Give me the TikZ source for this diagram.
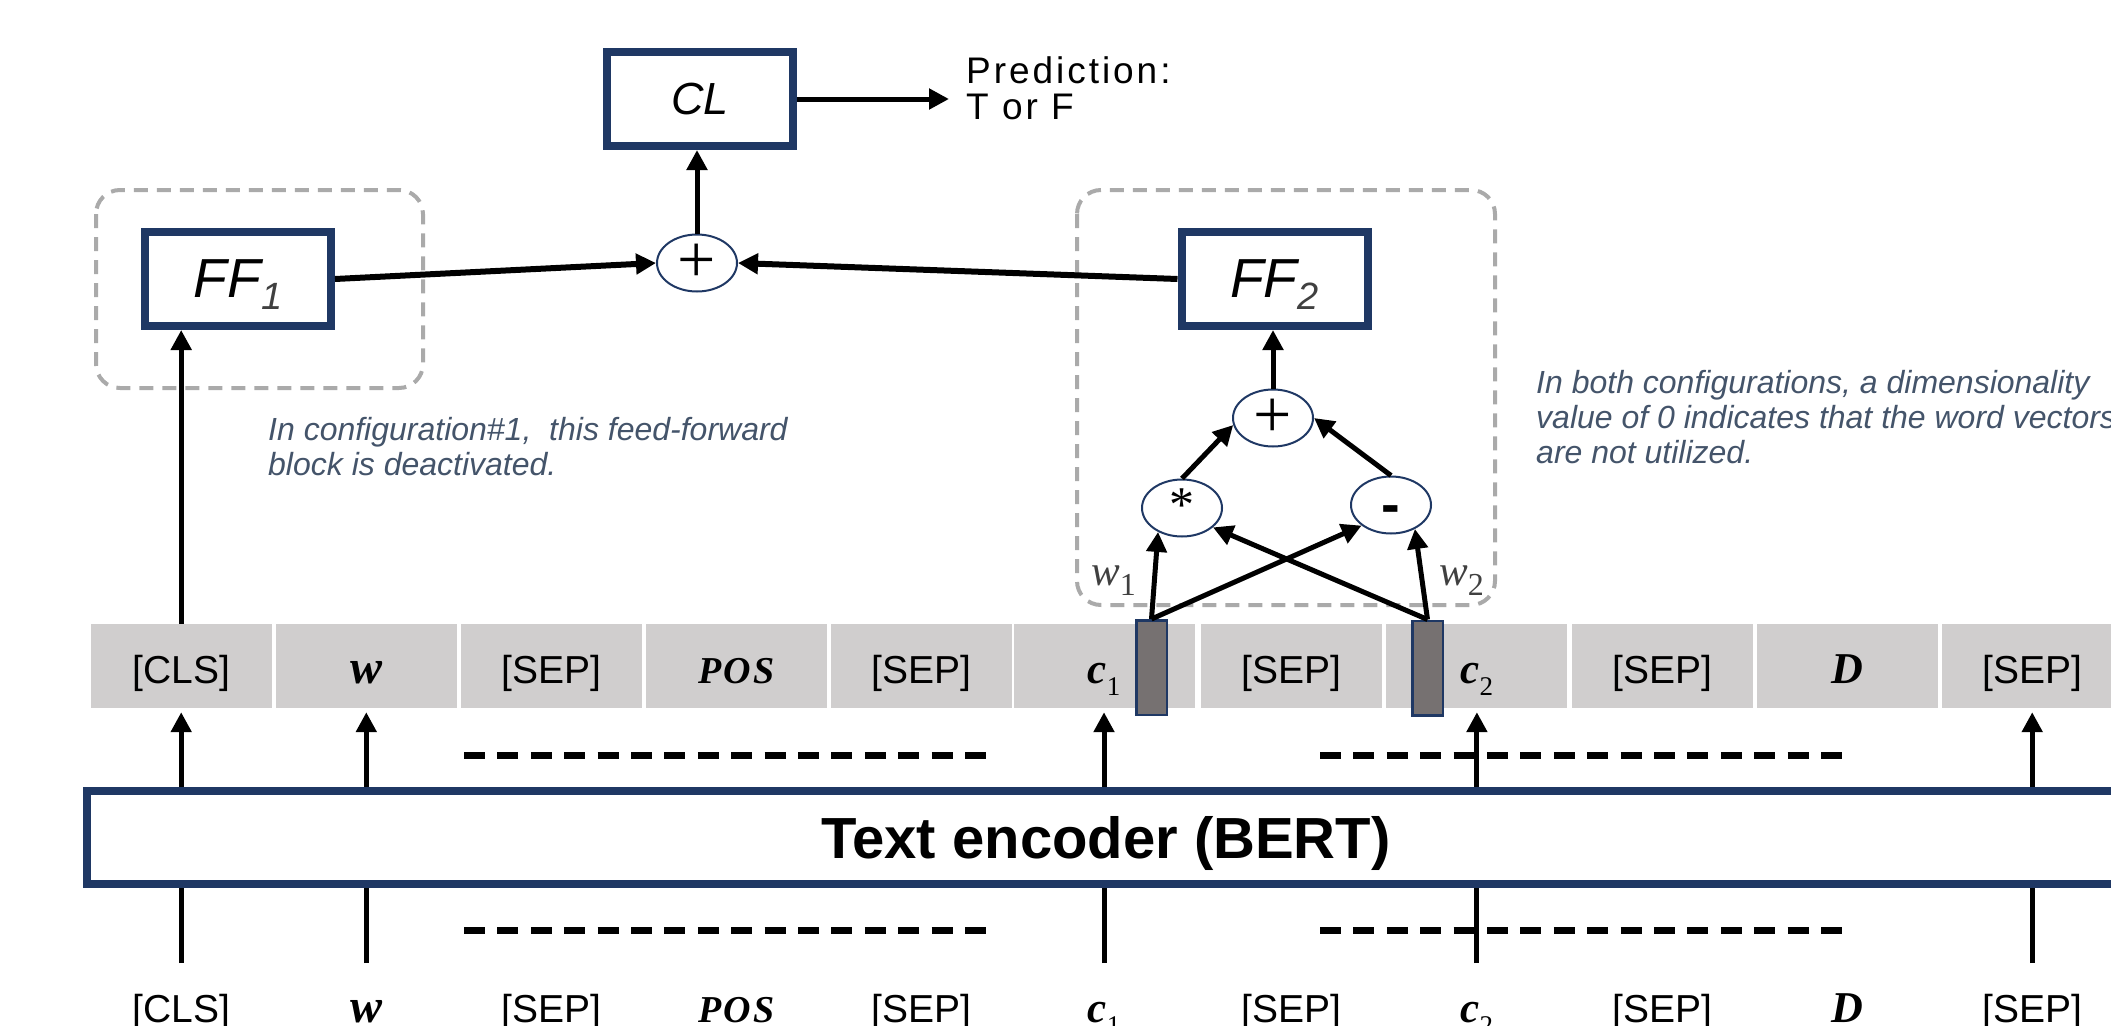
\documentclass[tikz,border=0pt]{standalone}
\usepackage{fontspec}
\setmainfont{Liberation Sans}
\newfontfamily\serifmath{Liberation Serif}
\newfontfamily\serifwide[LetterSpace=6]{Liberation Serif}
\newfontfamily\predfont[LetterSpace=8]{Liberation Sans}
\usetikzlibrary{arrows.meta,shapes.geometric,calc}
\definecolor{navy}{RGB}{31,56,100}
\definecolor{cellgray}{RGB}{208,206,206}
\definecolor{bargray}{RGB}{118,113,113}
\definecolor{notecol}{RGB}{68,84,106}
\definecolor{dashgray}{RGB}{170,170,170}
\definecolor{subgray}{RGB}{64,64,64}
\newcommand{\myfs}[1]{\fontsize{#1}{#1}\selectfont}
\newcommand{\bmi}[2]{{\serifmath\myfs{#1}\bfseries\itshape #2}}
\newcommand{\posl}{{\serifwide\myfs{38}\bfseries\itshape POS}}
\newcommand{\ffl}[1]{{\itshape\myfs{55}FF}\smash{\raisebox{-12pt}{\color{subgray}\itshape\myfs{38}#1}}}
\newcommand{\csub}[1]{\bmi{43}{c}\smash{\raisebox{-12pt}{\serifmath\myfs{27}#1}}}
\newcommand{\plusglyph}{{\serifmath\myfs{68}+}}
\begin{document}
\begin{tikzpicture}[x=1pt,y=-1pt,
  navybox/.style={draw=navy, line width=8pt, fill=white, minimum width=186pt, minimum height=94pt, inner sep=0pt},
  opnode/.style={ellipse, draw=navy, line width=2pt, fill=white, minimum width=80pt, minimum height=57pt, inner sep=0pt},
  cell/.style={fill=cellgray, minimum width=181pt, minimum height=84pt, inner sep=0pt, text height=40pt, text depth=6pt, font=\myfs{39}},
  bottomlbl/.style={anchor=base, inner sep=0pt, font=\myfs{39}},
  barbox/.style={draw=navy, line width=2.5pt, fill=bargray, minimum width=30.5pt, minimum height=94.5pt, inner sep=0pt},
  arr/.style={-{Triangle[length=20pt,width=20pt]}, line width=5pt, black},
  plainline/.style={line width=5pt, black},
  blackdash/.style={line width=7pt, dash pattern=on 21pt off 12.4pt},
  graybox/.style={draw=dashgray, line width=4pt, dash pattern=on 14pt off 9pt, rounded corners=24pt},
  note/.style={anchor=north west, inner sep=0pt, align=left, text=notecol, font=\itshape\fontsize{32}{35}\selectfont}
]
\useasboundingbox (0,0) rectangle (2111,1025);
\clip (0,0) rectangle (2111,1025);

% dashed containers
\draw[graybox] (96,190) rectangle (423,388);
\draw[graybox] (1077,190) rectangle (1495,605);

% dashed separators
\foreach \yy in {755,930} {
  \draw[blackdash] (464,\yy) -- (990,\yy);
  \draw[blackdash] (1320,\yy) -- (1846,\yy);
}

% token row
\node[cell] (t1) at (181.2,666) {[CLS]};
\node[cell] (t2) at (366.3,666) {\bmi{48}{w}};
\node[cell] (t3) at (551.4,666) {[SEP]};
\node[cell] (t4) at (736.5,666) {\posl};
\node[cell] (t5) at (921.6,666) {[SEP]};
\node[cell] (t6) at (1104,666) {\csub{1}};
\node[cell] (t7) at (1291.8,666) {[SEP]};
\node[cell] (t8) at (1476.9,666) {\csub{2}};
\node[cell] (t9) at (1662.0,666) {[SEP]};
\node[cell] (t10) at (1847.1,666) {\bmi{44}{D}};
\node[cell] (t11) at (2032.2,666) {[SEP]};

% selected vectors
\node[barbox] (bar1) at (1151.5,667.5) {};
\node[barbox] (bar2) at (1427.5,668) {};

% encoder
\node[navybox, minimum width=2038pt, minimum height=93pt, text height=41.5pt, text depth=0pt, font=\bfseries\myfs{58}] (enc) at (1106,837.5) {Text encoder (BERT)};

% input labels
\node[bottomlbl] (b1) at (181.2,1022) {[CLS]};
\node[bottomlbl] (b2) at (366.3,1022) {\bmi{48}{w}};
\node[bottomlbl] (b3) at (551.4,1022) {[SEP]};
\node[bottomlbl] (b4) at (736.5,1022) {\posl};
\node[bottomlbl] (b5) at (921.6,1022) {[SEP]};
\node[bottomlbl] (b6) at (1104,1022) {\csub{1}};
\node[bottomlbl] (b7) at (1291.8,1022) {[SEP]};
\node[bottomlbl] (b8) at (1476.9,1022) {\csub{2}};
\node[bottomlbl] (b9) at (1662.0,1022) {[SEP]};
\node[bottomlbl] (b10) at (1847.1,1022) {\bmi{44}{D}};
\node[bottomlbl] (b11) at (2032.2,1022) {[SEP]};

\foreach \i in {1,2,6,8,11} {
  \draw[arr, shorten >=4pt] (t\i |- enc.north) -- (t\i.south);
  \draw[plainline] (b\i |- 0,963) -- (b\i |- enc.south);
}

% upper blocks
\node[navybox] (ff1) at (238,279) {\ffl{1}};
\node[navybox] (ff2) at (1274.5,279) {\ffl{2}};
\node[navybox] (cl) at (700,99) {{\itshape\myfs{45}CL}};
\node[opnode] (tplus) at (697,263) {\plusglyph};
\node[opnode] (iplus) at (1273,418) {\plusglyph};
\node[opnode, text height=27pt, text depth=0pt] (star) at (1182,508) {{\serifmath\myfs{50}*}};
\node[opnode, text height=36.6pt, text depth=0pt] (minus) at (1391,505) {{\bfseries\myfs{56}-}};

\node[anchor=north west, inner sep=0pt, align=left, font=\predfont\fontsize{37}{36}\selectfont] (pred) at (966,56) {Prediction:\\T or F};

% weight labels
\node[anchor=base west, inner sep=0pt, text=subgray] (w1) at (1091,585) {{\serifmath\itshape\myfs{43}w}\smash{\raisebox{-10pt}{\serifmath\myfs{32}1}}};
\node[anchor=base west, inner sep=0pt, text=subgray] (w2) at (1439,585) {{\serifmath\itshape\myfs{43}w}\smash{\raisebox{-10pt}{\serifmath\myfs{32}2}}};

% notes
\node[note] (note1) at (268,417) {In configuration\#1,\ \ this feed-forward\\block is deactivated.};
\node[note] (note2) at (1536,370) {In both configurations, a dimensionality\\value of 0 indicates that the word vectors\\are not utilized.};

% connectors
\draw[arr] (tplus.north) -- (tplus.north |- cl.south);
\draw[arr, shorten >=17pt] (cl.east) -- (cl.east -| pred.west);
\draw[arr, line width=6pt] (ff1.east) -- (tplus.west);
\draw[arr, line width=6pt] (ff2.west) -- (tplus.east);
\draw[arr] (t1.north) -- (t1.north |- ff1.south);
\draw[arr] (iplus.north) -- (iplus.north |- ff2.south);
\draw[arr] (star.north) -- (iplus.190);
\draw[arr] (minus.north) -- (iplus.east);
\draw[arr] (bar1.north) -- (star.225);
\draw[arr] (bar1.north) -- (minus.215);
\draw[arr] (bar2.north) -- (star.328);
\draw[arr] (bar2.north) -- (minus.315);
\end{tikzpicture}
\end{document}
